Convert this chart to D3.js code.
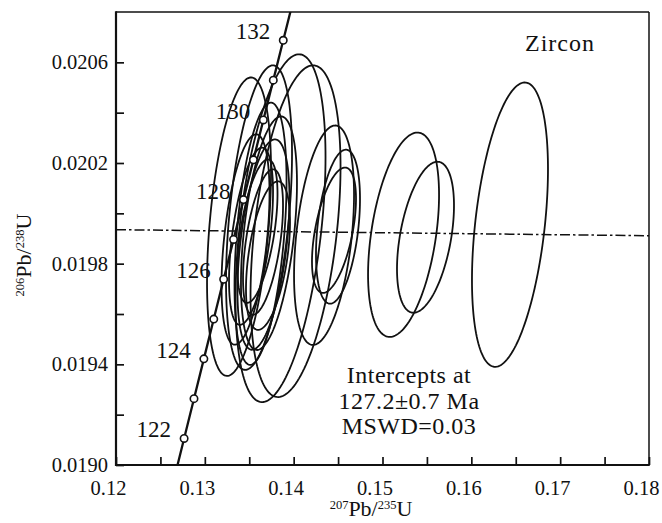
<!DOCTYPE html>
<html><head><meta charset="utf-8">
<script src="https://cdn.jsdelivr.net/npm/d3@7"></script>
<style>
body{margin:0;background:#fff}
svg{display:block}
text{font-family:"Liberation Serif","Times New Roman",serif;fill:#111}
</style>
</head><body>
<svg id="chart" width="662" height="523"></svg>
<script>
// ---- data ----
const concordiaAges = [121,122,123,124,125,126,127,128,129,130,131,132,133];
const concordia207 = [0.126558,0.127668,0.128779,0.129891,0.131005,0.132119,0.133234,0.134351,0.135469,0.136588,0.137707,0.138828,0.139951];
const concordia206 = [0.0189474,0.0191055,0.0192636,0.0194217,0.0195798,0.0197380,0.0198962,0.0200545,0.0202127,0.0203710,0.0205293,0.0206876,0.0208459];
const markerAges = [122,123,124,125,126,127,128,129,130,131,132];
const labelAges = [122,124,126,128,130,132];

// analysis spots: 207Pb/235U, 206Pb/238U, 2-sigma errors, error correlation
const spot207 = [0.13385,0.13610,0.13852,0.14021,0.13627,0.13722,0.13458,0.13520,0.13593,0.13655,0.13711,0.13660,0.14342,0.14499,0.14454,0.15237,0.15484,0.16435];
const spot206 = [0.019947,0.019983,0.019941,0.019929,0.019919,0.019921,0.019896,0.019909,0.019929,0.019886,0.019832,0.019876,0.019913,0.019947,0.019933,0.019915,0.019905,0.019955];
const err207 = [0.003602,0.003715,0.005066,0.005066,0.002927,0.003152,0.002702,0.002477,0.002251,0.002251,0.002477,0.002927,0.003377,0.002477,0.002477,0.003996,0.003208,0.004278];
const err206 = [0.000593,0.000605,0.000691,0.000659,0.000521,0.000464,0.000418,0.000352,0.000285,0.000289,0.000295,0.000418,0.000436,0.000306,0.000249,0.000406,0.000300,0.000565];
const rho = [0.375,0.42,0.41,0.39,0.40,0.43,0.44,0.50,0.52,0.50,0.45,0.44,0.37,0.36,0.50,0.39,0.42,0.39];

const discordiaX = [0.12, 0.18];
const discordiaY = [0.019935, 0.019911];

const xMajor = [0.12,0.13,0.14,0.15,0.16,0.17,0.18];
const xMinor = [0.125,0.135,0.145,0.155,0.165,0.175];
const yMajor = [0.0190,0.0194,0.0198,0.0202,0.0206];
const yMinor = [0.0192,0.0196,0.0200,0.0204];

const sampleLabel = "Zircon";
const resultLines = ["Intercepts at","127.2\u00B10.7 Ma","MSWD=0.03"];

// ---- layout ----
const L = 116, R = 649, T = 12, B = 465;
const svg = d3.select("#chart");
const x = d3.scaleLinear().domain([0.12,0.18]).range([L,R]);
const y = d3.scaleLinear().domain([0.0190,0.0208]).range([B,T]);

svg.append("defs").append("clipPath").attr("id","plotclip")
  .append("rect").attr("x",L).attr("y",T).attr("width",R-L).attr("height",B-T);

// labels on concordia (drawn under the curves)
const markers = markerAges.map(a=>{const i = concordiaAges.indexOf(a); return {a, x:concordia207[i], y:concordia206[i]};});
svg.selectAll("text.age").data(markers.filter(d=>labelAges.includes(d.a))).join("text")
  .attr("class","age")
  .attr("x",d=>x(d.x)-13).attr("y",d=>y(d.y)-1)
  .attr("text-anchor","end").attr("font-size",23).text(d=>d.a);

const plot = svg.append("g").attr("clip-path","url(#plotclip)");

// ellipses
const N = 160;
spot207.forEach((cx,i)=>{
  const cy = spot206[i], sx = err207[i], sy = err206[i], r = rho[i];
  const k = Math.sqrt(1-r*r);
  const pts = d3.range(N).map(j=>{
    const t = 2*Math.PI*j/N;
    return [cx + sx*Math.cos(t), cy + sy*(r*Math.cos(t) + k*Math.sin(t))];
  });
  plot.append("path")
    .attr("d", d3.line().x(d=>x(d[0])).y(d=>y(d[1])).curve(d3.curveLinearClosed)(pts))
    .attr("fill","none").attr("stroke","#111").attr("stroke-width",1.8);
});

// discordia
plot.append("path")
  .attr("d", d3.line().x(d=>x(d[0])).y(d=>y(d[1]))(discordiaX.map((v,i)=>[v,discordiaY[i]])))
  .attr("stroke","#111").attr("stroke-width",1.5).attr("fill","none")
  .attr("stroke-dasharray","10,3,2.5,3");

// concordia
const conc = concordiaAges.map((a,i)=>[concordia207[i],concordia206[i]]);
plot.append("path")
  .attr("d", d3.line().x(d=>x(d[0])).y(d=>y(d[1])).curve(d3.curveMonotoneY)(conc))
  .attr("fill","none").attr("stroke","#111").attr("stroke-width",2.3);

plot.selectAll("circle.m").data(markers).join("circle")
  .attr("cx",d=>x(d.x)).attr("cy",d=>y(d.y)).attr("r",3.7)
  .attr("fill","#fff").attr("stroke","#111").attr("stroke-width",1.6);

// axes
const xAxis = d3.axisBottom(x).tickValues(xMajor).tickSizeInner(-8).tickSizeOuter(0).tickPadding(15)
  .tickFormat(d3.format(".2f"));
svg.append("g").attr("transform",`translate(0,${B})`).call(xAxis)
  .selectAll(".tick text").attr("dx",-8);
svg.append("g").attr("transform",`translate(0,${B})`)
  .call(d3.axisBottom(x).tickValues(xMinor).tickSizeInner(-8).tickSizeOuter(0).tickFormat(""));
const yAxis = d3.axisLeft(y).tickValues(yMajor).tickSizeInner(-8).tickSizeOuter(0).tickPadding(8)
  .tickFormat(d3.format(".4f"));
svg.append("g").attr("transform",`translate(${L},0)`).call(yAxis);
svg.append("g").attr("transform",`translate(${L},0)`)
  .call(d3.axisLeft(y).tickValues(yMinor).tickSizeInner(-8).tickSizeOuter(0).tickFormat(""));
svg.selectAll(".domain").remove();
svg.selectAll(".tick line").attr("stroke","#111").attr("stroke-width",1.7);
svg.selectAll(".tick text").attr("font-size",20.5).attr("font-family","Liberation Serif, serif").attr("fill","#111");

// frame
svg.append("line").attr("x1",L).attr("x2",R).attr("y1",T).attr("y2",T).attr("stroke","#111").attr("stroke-width",1.5);
svg.append("line").attr("x1",R).attr("x2",R).attr("y1",T).attr("y2",B).attr("stroke","#111").attr("stroke-width",1.5);
svg.append("line").attr("x1",L).attr("x2",L).attr("y1",T-0.75).attr("y2",B+1).attr("stroke","#111").attr("stroke-width",2.2);
svg.append("line").attr("x1",L-1).attr("x2",R+0.75).attr("y1",B).attr("y2",B).attr("stroke","#111").attr("stroke-width",2.2);

// axis titles
const xt = svg.append("text").attr("x",371).attr("y",516).attr("text-anchor","middle").attr("font-size",22);
xt.append("tspan").attr("font-size",12.5).attr("dy",-7).text("207");
xt.append("tspan").attr("dy",7).text("Pb/");
xt.append("tspan").attr("font-size",12.5).attr("dy",-7).text("235");
xt.append("tspan").attr("dy",7).text("U");

const yt = svg.append("text").attr("transform","translate(31,255) rotate(-90)").attr("text-anchor","middle").attr("font-size",22);
yt.append("tspan").attr("font-size",12.5).attr("dy",-7).text("206");
yt.append("tspan").attr("dy",7).text("Pb/");
yt.append("tspan").attr("font-size",12.5).attr("dy",-7).text("238");
yt.append("tspan").attr("dy",7).text("U");

// annotations
svg.append("text").attr("x",560).attr("y",51).attr("text-anchor","middle").attr("font-size",24)
  .attr("letter-spacing",1).text(sampleLabel);
svg.selectAll("text.res").data(resultLines).join("text")
  .attr("class","res")
  .attr("x",409).attr("y",(d,i)=>383+i*25.5).attr("text-anchor","middle").attr("font-size",24)
  .attr("letter-spacing",0.5).text(d=>d);
</script>
</body></html>
